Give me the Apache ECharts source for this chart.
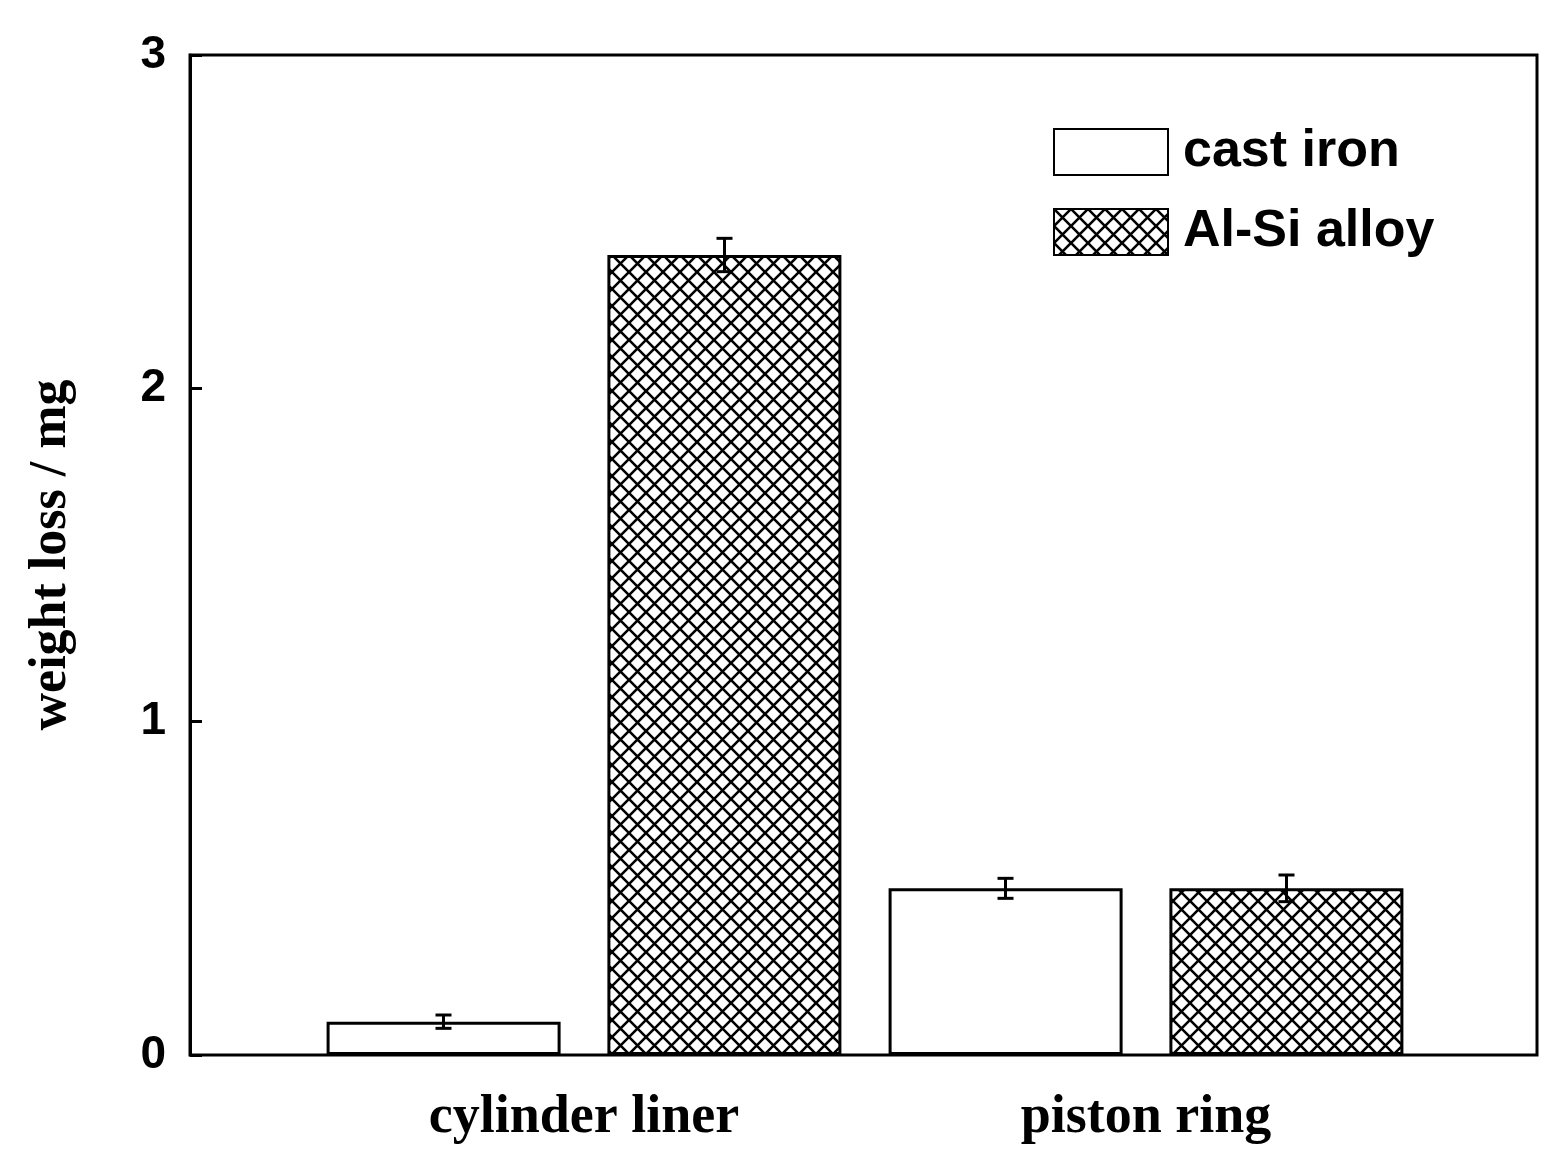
<!DOCTYPE html>
<html><head><meta charset="utf-8">
<script src="https://cdn.jsdelivr.net/npm/echarts@6/dist/echarts.min.js"></script>
<style>html,body{margin:0;padding:0;background:#fff}#c{width:1565px;height:1170px}</style>
</head><body><div id="c"></div>
<script>
const categories = ['cylinder liner', 'piston ring'];
const seriesNames = ['cast iron', 'Al-Si alloy'];
const castIron = [0.10, 0.50];
const castIronErr = [0.02, 0.03];
const alSi = [2.40, 0.50];
const alSiErr = [0.05, 0.04];
const yTicks = [0, 1, 2, 3];

const cv = document.createElement('canvas');
cv.width = 17; cv.height = 17;
const g = cv.getContext('2d');
g.fillStyle = '#fff'; g.fillRect(0,0,17,17);
g.strokeStyle = '#000'; g.lineWidth = 2.6;
g.beginPath();
g.moveTo(-1,-1); g.lineTo(18,18);
g.moveTo(18,-1); g.lineTo(-1,18);
g.stroke();
const hatch = {image: cv, repeat: 'repeat'};

const chart = echarts.init(document.getElementById('c'));
function errSeries(vals, errs, off){
  return {
    type:'custom', xAxisIndex:1, yAxisIndex:1, silent:true, z:10,
    data: vals.map((v,i)=>[i, v, errs[i]]),
    renderItem(params, api){
      const i = api.value(0), v = api.value(1), e = api.value(2);
      const band = api.size([1,0])[0];
      const top = api.coord([i, v+e]), bot = api.coord([i, v-e]);
      const x = top[0] + band*off, w = 8;
      const st = {stroke:'#000', lineWidth:3};
      return {type:'group', children:[
        {type:'line', shape:{x1:x,y1:top[1],x2:x,y2:bot[1]}, style:st},
        {type:'line', shape:{x1:x-w,y1:top[1],x2:x+w,y2:top[1]}, style:st},
        {type:'line', shape:{x1:x-w,y1:bot[1],x2:x+w,y2:bot[1]}, style:st}
      ]};
    }
  };
}
chart.setOption({
  animation:false,
  grid:[
    {left:190, right:28, top:55, bottom:115, show:true, borderColor:'#000', borderWidth:3, z:20},
    {left:303, right:138, top:55, bottom:115}
  ],
  legend:{
    data: seriesNames, left:1048, top:121, orient:'vertical', icon:'rect',
    itemWidth:114, itemHeight:46, itemGap:28,
    textStyle:{fontFamily:'Liberation Sans, Arial', fontWeight:'bold', fontSize:52, color:'#000', padding:[0,0,0,10]}
  },
  xAxis:[
    {type:'value', gridIndex:0, min:0, max:1, show:false},
    {type:'category', gridIndex:1, data:categories,
     axisLine:{show:false}, axisTick:{show:false},
     axisLabel:{margin:36, fontFamily:'Liberation Serif, Times New Roman', fontWeight:'bold', fontSize:54, color:'#000'}}
  ],
  yAxis:[
    {type:'value', gridIndex:0, min:0, max:3, interval:1,
     name:'weight loss / mg', nameLocation:'middle', nameGap:112,
     nameTextStyle:{fontFamily:'Liberation Serif, Times New Roman', fontWeight:'bold', fontSize:52, color:'#000'},
     axisLine:{show:true, lineStyle:{color:'#000', width:3}},
     axisTick:{show:true, inside:true, length:12, lineStyle:{color:'#000', width:3}},
     splitLine:{show:false},
     axisLabel:{margin:24, fontFamily:'Liberation Sans, Arial', fontWeight:'bold', fontSize:46, color:'#000',
       formatter:v=>yTicks.includes(v)?String(v):''}},
    {type:'value', gridIndex:1, min:0, max:3, show:false}
  ],
  series:[
    {name:seriesNames[0], type:'bar', xAxisIndex:1, yAxisIndex:1, data:castIron,
     barWidth:234, barGap:'20%', itemStyle:{color:'#fff', borderColor:'#000', borderWidth:3}},
    {name:seriesNames[1], type:'bar', xAxisIndex:1, yAxisIndex:1, data:alSi,
     barWidth:234, barGap:'20%', itemStyle:{color:hatch, borderColor:'#000', borderWidth:3}},
    errSeries(castIron, castIronErr, -0.25),
    errSeries(alSi, alSiErr, 0.25)
  ]
});
</script></body></html>
